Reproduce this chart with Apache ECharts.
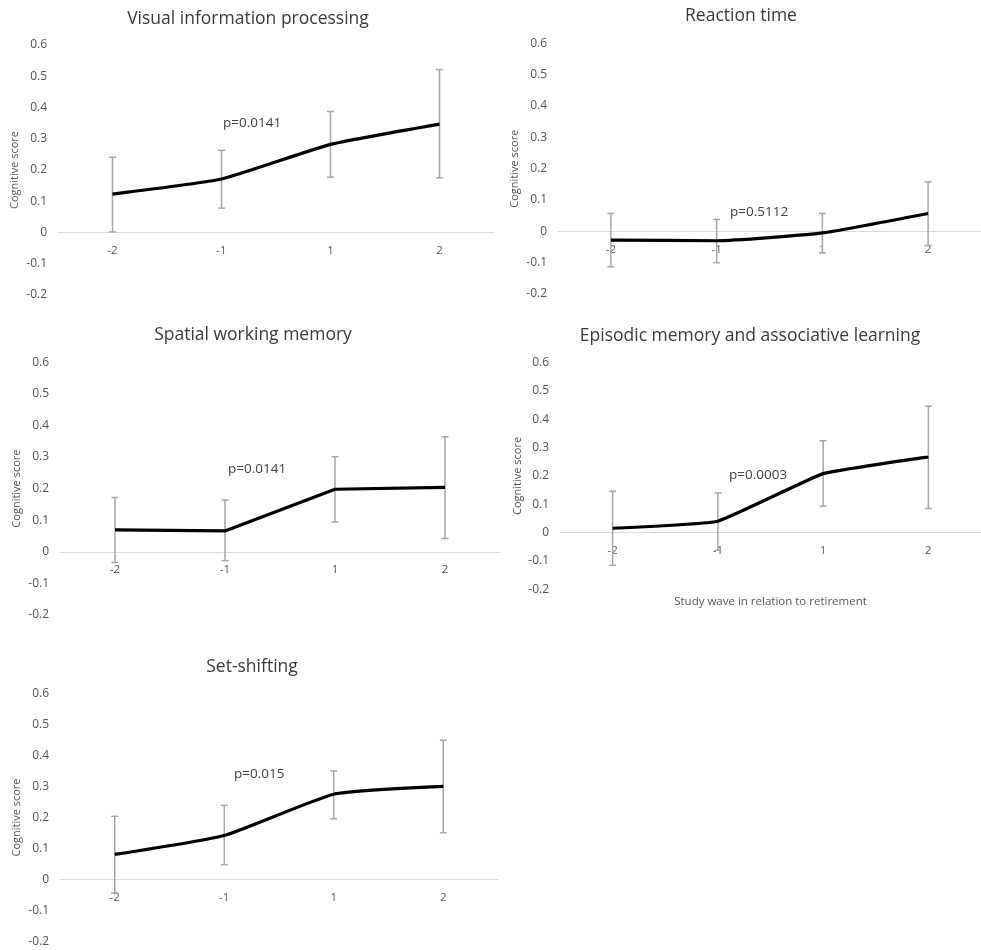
<!DOCTYPE html>
<html>
<head>
<meta charset="utf-8">
<script src="https://cdn.jsdelivr.net/npm/echarts@6/dist/echarts.min.js"></script>
<style>
html,body{margin:0;padding:0;background:#fff;}
#main{width:981px;height:950px;}
</style>
</head>
<body>
<div id="main"></div>
<script>
// ---- Data ----
const categories = ['-2', '-1', '1', '2'];
const yTicks = [-0.2, 0.6, 0.1]; // min, max, interval

const titles = [
  'Visual information processing',
  'Reaction time',
  'Spatial working memory',
  'Episodic memory and associative learning',
  'Set-shifting'
];
const pValues = ['p=0.0141', 'p=0.5112', 'p=0.0141', 'p=0.0003', 'p=0.015'];

const visualMean = [0.123, 0.171, 0.282, 0.347];
const visualLow  = [0.002, 0.078, 0.177, 0.175];
const visualHigh = [0.241, 0.263, 0.387, 0.521];

const reactionMean = [-0.028, -0.030, -0.005, 0.057];
const reactionLow  = [-0.113, -0.100, -0.069, -0.045];
const reactionHigh = [0.057, 0.038, 0.057, 0.158];

const spatialMean = [0.069, 0.066, 0.198, 0.204];
const spatialLow  = [-0.034, -0.028, 0.094, 0.042];
const spatialHigh = [0.172, 0.164, 0.301, 0.364];

const episodicMean = [0.015, 0.040, 0.208, 0.267];
const episodicLow  = [-0.116, -0.063, 0.093, 0.085];
const episodicHigh = [0.146, 0.140, 0.324, 0.446];

const setMean = [0.081, 0.142, 0.275, 0.300];
const setLow  = [-0.043, 0.048, 0.196, 0.151];
const setHigh = [0.204, 0.239, 0.350, 0.449];

const xAxisTitle = 'Study wave in relation to retirement';
const yAxisTitle = 'Cognitive score';

// ---- Layout (pixels) ----
const panels = [
  {mean: visualMean,   low: visualLow,   high: visualHigh,   grid: {left: 58,  top: 45,    width: 436, height: 250},   title: [243, 5],   p: [223, 125], smooth: 0.15, nameGap: 38},
  {mean: reactionMean, low: reactionLow, high: reactionHigh, grid: {left: 558, top: 43.3,  width: 444, height: 250.7}, title: [736, 2],   p: [730, 214], smooth: 0.15, nameGap: 38},
  {mean: spatialMean,  low: spatialLow,  high: spatialHigh,  grid: {left: 60,  top: 362.3, width: 440, height: 252.6}, title: [248, 321], p: [228, 471], smooth: false, nameGap: 38},
  {mean: episodicMean, low: episodicLow, high: episodicHigh, grid: {left: 560, top: 362.7, width: 436, height: 226.4}, title: [745, 322], p: [729, 477], smooth: 0.1, nameGap: 37},
  {mean: setMean,      low: setLow,      high: setHigh,      grid: {left: 60,  top: 693.3, width: 438, height: 248.4}, title: [247, 653], p: [234, 776], smooth: 0.15, nameGap: 38}
];

const FONT = '"Open Sans", "Liberation Sans", sans-serif';
const labelColor = '#555555';
const zeroFrac = (0 - yTicks[0]) / (yTicks[1] - yTicks[0]);

const chart = echarts.init(document.getElementById('main'), null, {renderer: 'canvas'});

function errorBarItem(params, api) {
  const x = api.value(0);
  const pLo = api.coord([x, api.value(1)]);
  const pHi = api.coord([x, api.value(2)]);
  const half = 3.5;
  const style = {stroke: '#a6a6a6', lineWidth: 1.5};
  return {
    type: 'group',
    children: [
      {type: 'line', shape: {x1: pHi[0], y1: pHi[1], x2: pLo[0], y2: pLo[1]}, style: style},
      {type: 'line', shape: {x1: pHi[0] - half, y1: pHi[1], x2: pHi[0] + half, y2: pHi[1]}, style: style},
      {type: 'line', shape: {x1: pLo[0] - half, y1: pLo[1], x2: pLo[0] + half, y2: pLo[1]}, style: style}
    ]
  };
}

const option = {
  backgroundColor: '#ffffff',
  animation: false,
  title: [],
  grid: [],
  xAxis: [],
  yAxis: [],
  series: [],
  graphic: []
};

panels.forEach((pn, i) => {
  option.title.push({
    text: titles[i],
    left: pn.title[0],
    top: pn.title[1],
    textAlign: 'center',
    textStyle: {fontFamily: FONT, fontSize: 17.5, fontWeight: 'normal', color: '#3a3a3a'}
  });
  option.grid.push(Object.assign({containLabel: false}, pn.grid));
  option.xAxis.push({
    type: 'category',
    gridIndex: i,
    data: categories,
    boundaryGap: true,
    position: 'bottom',
    offset: -pn.grid.height * zeroFrac,
    axisLine: {show: true, onZero: false, lineStyle: {color: '#d9d9d9', width: 1}},
    axisTick: {show: false},
    axisLabel: {fontFamily: FONT, fontSize: 11.5, color: labelColor, margin: 12},
    splitLine: {show: false},
    name: i === 3 ? xAxisTitle : '',
    nameLocation: 'middle',
    nameGap: 63,
    nameTextStyle: {fontFamily: FONT, fontSize: 11.5, color: labelColor}
  });
  option.yAxis.push({
    type: 'value',
    gridIndex: i,
    min: yTicks[0],
    max: yTicks[1],
    interval: yTicks[2],
    axisLine: {show: false},
    axisTick: {show: false},
    splitLine: {show: false},
    axisLabel: {fontFamily: FONT, fontSize: 12, color: labelColor, margin: 11,
      formatter: v => String(Math.round(v * 10) / 10)},
    name: yAxisTitle,
    nameLocation: 'middle',
    nameRotate: 90,
    nameGap: pn.nameGap,
    nameTextStyle: {fontFamily: FONT, fontSize: 11, color: labelColor}
  });
  option.series.push({
    type: 'custom',
    xAxisIndex: i,
    yAxisIndex: i,
    renderItem: errorBarItem,
    data: categories.map((c, k) => [k, pn.low[k], pn.high[k]]),
    z: 2,
    silent: true
  });
  option.series.push({
    type: 'line',
    xAxisIndex: i,
    yAxisIndex: i,
    data: pn.mean,
    smooth: pn.smooth,
    symbol: 'none',
    lineStyle: {color: '#000000', width: 3.2},
    z: 3,
    silent: true
  });
  option.graphic.push({
    type: 'text',
    left: pn.p[0],
    top: pn.p[1] - 9,
    style: {text: pValues[i], font: '13.5px ' + FONT, fill: '#404040'},
    z: 10
  });
});

chart.setOption(option);
</script>
</body>
</html>
